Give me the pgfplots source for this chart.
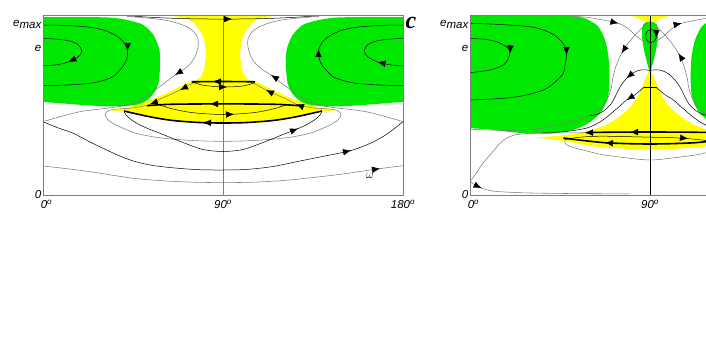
\documentclass[border=0pt]{standalone}
\usepackage{pgfplots}
\pgfplotsset{compat=1.18}
\usepackage{fontspec}
\setmainfont{Liberation Sans}
\newfontfamily\seriffont{Liberation Serif}
\usetikzlibrary{arrows.meta}
\definecolor{grn}{RGB}{0,232,0}
\definecolor{ylw}{RGB}{255,255,0}
\definecolor{gry}{RGB}{125,125,125}
\pgfplotsset{
  panel/.style={scale only axis, width=360pt, height=180pt,
    xmin=0, xmax=180, ymin=0, ymax=180, axis on top,
    axis line style={draw=gry, line width=0.6pt},
    tick style={draw=none}, ytick={0,147,171},
    yticklabels={0\hspace{10.5pt}, e\hspace{10.5pt}, \raisebox{2pt}{e}max},
    tick label style={font=\fontsize{11.5}{12}\selectfont\itshape},
    xticklabel style={inner sep=0pt, anchor=north, yshift=-5pt},
    yticklabel style={inner sep=0pt, anchor=east, xshift=-1.5pt}},
  cv/.style={black, line width=0.5pt, smooth},
  gc/.style={gry, line width=0.55pt, smooth},
  tk/.style={black, line width=1.6pt, smooth},
  ar/.style={black, line width=0.4pt, -{Latex[length=8pt,width=6.5pt]}},
}
\begin{document}
\begin{tikzpicture}
\path[use as bounding box, clip] (0pt,-362pt) rectangle (706pt,0pt);
% ================= LEFT PANEL =================
\begin{axis}[panel, at={(43pt,-195pt)}, anchor=south west,
  xtick={0,90,180},
  xticklabels={\hspace*{7pt}0\textsuperscript{o}, 90\textsuperscript{o}, 180\textsuperscript{o}}]
% yellow
\addplot[fill=ylw, draw=none] coordinates {(36,182)(50,180.3)(62,179.3)(68,178.3)(71.8,176.7)(75.5,172)(77.7,166.7)(80,159)(81,151.7)(81.5,138.3)(80.5,125)(78.8,118)(76.5,114.5)(72,112)(65,105)(57,97.5)(49,91.5)(43,88)(34.3,84.5)(40,83.5)(47,81)(55,77.5)(62,75)(70,72.8)(80,71.5)(90,71)(100,71.5)(110,72.8)(118,75)(125,77.5)(133,81)(140,83.5)(145.7,84.5)(137,88)(131,91.5)(123,97.5)(115,105)(108,112)(103.5,114.5)(101.2,118)(99.5,125)(98.5,138.3)(99,151.7)(100,159)(102.3,166.7)(104.5,172)(108.2,176.7)(112,178.3)(118,179.3)(130,180.3)(144,182)};
% green
\addplot[fill=grn, draw=none, smooth] coordinates {(-2,178)(30,177.7)(40,175.8)(46,173)(50.2,170)(55.2,160)(58.2,145)(58.5,128.3)(57.7,111.7)(55.5,102)(51.5,94)(46,90)(35,88.5)(20,90)(-2,93.5)};
\addplot[fill=grn, draw=none, smooth] coordinates {(182,178)(150,177.7)(140,175.8)(134,173)(129.8,170)(124.8,160)(121.8,145)(121.5,128.3)(122.3,111.7)(124.5,102)(128.5,94)(134,90)(145,88.5)(160,90)(182,93.5)};
% vertical line
\addplot[gry, line width=0.6pt] coordinates {(90,0)(90,180)};
% top border thick
\addplot[black, line width=1.4pt] coordinates {(0,179.3)(43,179.3)};
\addplot[black, line width=1.4pt] coordinates {(137,179.3)(180,179.3)};
% top curve
\addplot[cv] coordinates {(42,179.3)(55,177.6)(70,176.4)(90,175.9)(110,176.4)(125,177.6)(138,179.3)};
% green orbits left
\addplot[cv] coordinates {(0,156.7)(7,155.8)(13.5,154)(17.5,150.5)(19.3,145)(18.5,140)(16.3,136.5)(12.7,133)(7,130.3)(0,129)};
\addplot[cv] coordinates {(0,170)(12,169.5)(23.5,167.7)(31,164.5)(36.8,159)(40.5,152.5)(42.2,145)(42,137)(40.5,130)(38,124)(35.2,118.5)(30,114.5)(23.5,111.7)(12,110)(0,109.3)};
% green orbits right
\addplot[cv] coordinates {(180,156.7)(173,155.8)(166.5,154)(162.5,150.5)(160.7,145)(161.5,140)(163.7,136.5)(167.3,133)(173,130.3)(180,129)};
\addplot[cv] coordinates {(180,170)(168,169.5)(156.5,167.7)(149,164.5)(143.2,159)(139.5,152.5)(137.8,145)(138,137)(139.5,130)(142,124)(144.8,118.5)(150,114.5)(156.5,111.7)(168,110)(180,109.3)};
% C3 separatrices
\addplot[gc] coordinates {(42,178.6)(53.5,176.7)(60,175.2)(66,172.6)(71.8,168.3)(75.5,163)(77.5,156)(77.5,148)(76,138.3)(73.5,131)(70,125)(66,120)(60.5,111.5)(54.5,103)(49,95.5)(43,90.5)(36,87.8)(27,85.6)(18.5,83.3)(8.5,78.3)(0,73.3)};
\addplot[gc] coordinates {(138,178.6)(126.5,176.7)(120,175.2)(114,172.6)(108.2,168.3)(104.5,163)(102.5,156)(102.5,148)(104,138.3)(106.5,131)(110,125)(114,120)(119.5,111.5)(125.5,103)(131,95.5)(137,90.5)(144,87.8)(153,85.6)(161.5,83.3)(171.5,78.3)(180,73.3)};
% C4 loop
\addplot[gc] coordinates {(76.8,113.3)(72.5,109.5)(68.5,105)(62.5,99.5)(56.8,94.5)(53.5,90.7)(48,88)(43.5,86.8)(37,86)(32.8,84.5)(31,80.5)(32.5,75)(36.5,70)(40.2,66.7)(46,62)(55,58.2)(65,55.8)(78,54.2)(90,53.7)(102,54.2)(115,55.8)(125,58.2)(134,62)(139.8,66.7)(143.5,70)(147.5,75)(149,80.5)(147.2,84.5)(143,86)(136.5,86.8)(132,88)(126.5,90.7)(123.2,94.5)(117.5,99.5)(111.5,105)(107.5,109.5)(103.2,113.3)};
% C5
\addplot[cv] coordinates {(0,73.3)(7,67.5)(15.2,61.7)(23,53.5)(31.8,45)(39,38.5)(46,33.5)(55,29.5)(66,27)(78,25.3)(90,25)(102,25.6)(115,28.5)(128.5,34)(141,39)(154,44.5)(164,52)(172,61)(180,73.3)};
% C6
\addplot[gc] coordinates {(0,29)(12,26.3)(23.5,23.3)(35,19.7)(46,16.5)(60,14.2)(75,12.8)(90,12.4)(105,12.8)(120,14.5)(135,17.5)(150,21)(161.8,24.5)(170,26.8)(180,29.3)};
% C7
\addplot[cv] coordinates {(40.5,84)(41.5,80)(44,75.5)(48,70.5)(53,66)(60,60.5)(70,52.5)(80,45.5)(90,43.5)(100,45.5)(110,52.5)(120,60.5)(127,66)(132,70.5)(136,75.5)(138.5,80)(139.5,84)};
% inner thin orbits
\addplot[cv] coordinates {(75,112.8)(80,109.8)(90,108)(100,109)(106,112.5)};
\addplot[cv] coordinates {(58,90.3)(65,86)(75,82.3)(90,80.5)(105,82.3)(115,86)(122,90.3)};
% thick
\addplot[tk] coordinates {(74.3,113.2)(90,113.5)(106,113.2)};
\addplot[tk] coordinates {(52,89.3)(62,90.6)(75,91)(90,91.1)(105,91)(118,90.6)(128,89.3)};
\addplot[tk] coordinates {(40.5,84)(47,81)(55,77.6)(65,74.5)(78,72.5)(90,72)(102,72.5)(115,74.5)(125,77.6)(133,81)(139.5,84)};
% arrows
\addplot[ar] coordinates {(91,175.9)(94.5,175.9)};
\addplot[ar] coordinates {(16,136.2)(12.7,133)};
\addplot[ar] coordinates {(42.3,151)(42.2,144)};
\addplot[ar] coordinates {(170.5,131.5)(167.3,133)};
\addplot[ar] coordinates {(137.7,139)(137.8,146)};
\addplot[ar] coordinates {(69.3,124)(66,120)};
\addplot[ar] coordinates {(117.4,115.7)(114,120)};
\addplot[ar] coordinates {(71.6,108.1)(68.5,105)};
\addplot[ar] coordinates {(56.8,93.1)(53.5,90.7)};
\addplot[ar] coordinates {(114.6,101.9)(111.5,105)};
\addplot[ar] coordinates {(129.8,88.3)(126.5,90.7)};
\addplot[ar] coordinates {(150.6,43)(154,44.5)};
\addplot[ar] coordinates {(165,25.4)(168.5,26.4)};
\addplot[ar] coordinates {(124.2,63.8)(127.5,66.4)};
\addplot[ar] coordinates {(89,113.4)(85,113.4)};
\addplot[ar] coordinates {(88.5,108)(92,108.1)};
\addplot[ar] coordinates {(87.5,91.1)(83.5,91.1)};
\addplot[ar] coordinates {(92,80.5)(95.5,80.8)};
\addplot[ar] coordinates {(84,72.2)(80,72.4)};
\node at (axis cs:163.5,19.5) {\fontsize{12}{12}\selectfont$\omega$};
\end{axis}
\node at (411pt,-22.5pt) {\seriffont\bfseries\itshape\fontsize{24}{24}\selectfont c};
% ================= RIGHT PANEL =================
\begin{axis}[panel, at={(470pt,-195pt)}, anchor=south west,
  xtick={0,90},
  xticklabels={\hspace*{7pt}0\textsuperscript{o}, 90\textsuperscript{o}}]
% yellow
\addplot[fill=ylw, draw=none] coordinates {(37,182)(57,182)(57,179)(37,179.6)};
\addplot[fill=ylw, draw=none] coordinates {(76,182)(104,182)(95.5,176.5)(93,174)(90,173)(87,174)(84.5,176.5)};
\addplot[fill=ylw, draw=none] coordinates {(90,126)(88.5,120)(87,113)(85.5,105)(83.5,97)(81,90)(77.5,83)(73,76)(67.5,69.5)(61,65)(53,61.5)(45,59.3)(38,58.2)(33,57.5)(38,56.3)(45,54.5)(52,52.3)(58,49.8)(66,47.7)(78,46.2)(90,45.7)(102,46.2)(114,47.7)(122,49.8)(128,52.3)(135,54.5)(142,56.3)(147,57.5)(142,58.2)(135,59.3)(127,61.5)(119,65)(112.5,69.5)(107,76)(102.5,83)(99,90)(96.5,97)(94.5,105)(93,113)(91.5,120)};
% green
\addplot[fill=grn, draw=none, smooth] coordinates {(-2,179)(45,179)(53,178.5)(57.5,176.7)(61,173)(64.2,168.3)(67.5,155)(69.2,138.3)(69.7,118.3)(69.2,100)(67.8,91)(65.5,83)(62,76)(58,70.5)(53,66)(47,63)(40,61.5)(30,61.5)(20,63)(10,65.5)(-2,67)};
\addplot[fill=grn, draw=none, smooth] coordinates {(182,179)(135,179)(127,178.5)(122.5,176.7)(119,173)(115.8,168.3)(112.5,155)(110.8,138.3)(110.3,118.3)(110.8,100)(112.2,91)(114.5,83)(118,76)(122,70.5)(127,66)(133,63)(140,61.5)(150,61.5)(160,63)(170,65.5)(182,67)};
\addplot[fill=grn, draw=none] coordinates {(90,173.2)(92,172.6)(93.4,170.5)(94,166)(94,158)(93.5,150)(92.7,142)(91.6,133)(90.3,124)(90,123.3)(89.7,124)(88.4,133)(87.3,142)(86.5,150)(86,158)(86,166)(86.6,170.5)(88,172.6)};
% vertical line
\addplot[black, line width=0.5pt] coordinates {(90,0)(90,180)};
\addplot[black, line width=1.4pt] coordinates {(0,179.3)(38,179.3)};
% green orbits
\addplot[cv] coordinates {(0,156.7)(7,155.8)(13.3,153.3)(18,148.5)(20,143.3)(19,136)(16.7,130)(10,125)(0,122.3)};
\addplot[cv] coordinates {(0,171.7)(15,170.5)(30,168.3)(38,164)(43.3,158.3)(47,150)(48.3,141.7)(47.5,130)(46.7,121.7)(42,112)(36.7,105)(27,99.5)(16.7,96.7)(0,95)};
% small circle in leaf
\addplot[cv] coordinates {(90.5,165.5)(92.3,164)(93.2,159)(92.3,154)(90.5,152.5)(88.7,154)(87.8,159)(88.7,164)(90.5,165.5)};
% R2 and mirror
\addplot[gc] coordinates {(88.5,173)(85.7,166.5)(82.5,160)(79,151.5)(75.8,141.7)(73.2,130)(71.5,118)(70.7,108)(69.5,100)(67.3,91.5)(64,84.5)(60,79.5)(55,76)(48,72)(39,68)(30,65.5)(20,64.6)(10,65)(0,65.7)};
\addplot[gc] coordinates {(91.5,173)(94.3,166.5)(97.5,160)(101,151.5)(104.2,141.7)(106.8,130)(108.5,118)(109.3,108)(110.5,100)(112.7,91.5)(116,84.5)(120,79.5)(125,76)(132,72)(141,68)(150,65.5)(160,64.6)(170,65)(180,65.7)};
% R1 and mirror
\addplot[gc] coordinates {(50,178.8)(58,177.8)(66,175.2)(74.2,171.7)(79,166.5)(82.5,160)(85.8,155)(88.5,152)(90,151)};
\addplot[gc] coordinates {(130,178.8)(122,177.8)(114,175.2)(105.8,171.7)(101,166.5)(97.5,160)(94.2,155)(91.5,152)(90,151)};
% RL1 and mirror
\addplot[cv] coordinates {(90.3,124.5)(87,125.2)(84.2,124.5)(81,121.5)(78.3,116.7)(76,111)(74.2,105)(72.5,98)(70.5,91)(67.5,85)(63.5,80.5)(60,79.5)};
\addplot[cv] coordinates {(89.7,124.5)(93,125.2)(95.8,124.5)(99,121.5)(101.7,116.7)(104,111)(105.8,105)(107.5,98)(109.5,91)(112.5,85)(116.5,80.5)(120,79.5)};
% RL2 and mirror
\addplot[cv] coordinates {(87,107.7)(84.5,103.5)(82.5,100.2)(78.3,95)(75.5,90)(72,84)(68.5,78)(64.5,72.5)(60.5,68.5)(57.5,66.5)(50,64)(42,62.5)(36,62)};
\addplot[cv] coordinates {(93,107.7)(95.5,103.5)(97.5,100.2)(101.7,95)(104.5,90)(108,84)(111.5,78)(115.5,72.5)(119.5,68.5)(122.5,66.5)(130,64)(138,62.5)(144,62)};
% RB1, RB2
\addplot[gc] coordinates {(0,13.3)(2.5,20)(5.8,30)(10,40)(14.2,50)(18,56.5)(23,60.3)(30.8,61.8)(40,62.1)(50,62.1)(58,62.3)};
\addplot[gc] coordinates {(0,13.3)(3,9.5)(5.8,6.8)(10,4.5)(14.2,3.4)(25,2.3)(39,1.7)(60,1.3)(80,1.1)};
% RO loop
\addplot[cv] coordinates {(47.5,55.5)(55,57.8)(65,58.8)(80,58.3)(90,57.8)(100,57.4)(109,56.4)(118,54.5)(126,52.5)(131,50)};
\addplot[gc] coordinates {(47.5,55.5)(47.5,52)(50,48.5)(57.5,44.5)(65,40.8)(74,38.2)(90,35)(106,38.2)(115,40.8)(122.5,44.5)(130,48.5)(132.5,52)(132.5,55.5)};
% thick
\addplot[black, line width=1.6pt] coordinates {(87,107.7)(93.5,107.7)};
\addplot[tk] coordinates {(58,62.4)(70,62.8)(90,63)(110,62.8)(122,62.4)};
\addplot[tk] coordinates {(46.7,57)(52,55.6)(57.5,54.3)(67.5,52.3)(80,51.3)(90,51)(100,51.3)(112.5,52.3)(122.5,54.3)(128,55.6)(133.3,57)};
% arrows
\addplot[ar] coordinates {(20.2,148)(20,141.5)};
\addplot[ar] coordinates {(48.2,147)(48.3,140)};
\addplot[ar] coordinates {(77.7,147.6)(75.8,141.7)};
\addplot[ar] coordinates {(106.1,135.8)(104.2,141.7)};
\addplot[ar] coordinates {(70.8,173.2)(74.2,171.7)};
\addplot[ar] coordinates {(102.4,170.2)(105.8,171.7)};
\addplot[ar] coordinates {(93.2,163)(93.1,157)};
\addplot[ar] coordinates {(80.9,121.3)(78.3,116.7)};
\addplot[ar] coordinates {(81.3,98.7)(78.3,95)};
\addplot[ar] coordinates {(84,62.9)(80,62.9)};
\addplot[ar] coordinates {(61.5,62.4)(57.5,62.3)};
\addplot[ar] coordinates {(71.5,51.8)(67.5,52.3)};
\addplot[ar] coordinates {(105.5,57.2)(109,56.4)};
\addplot[ar] coordinates {(2.65,9.8)(5.8,6.8)};
\end{axis}
\end{tikzpicture}
\end{document}
